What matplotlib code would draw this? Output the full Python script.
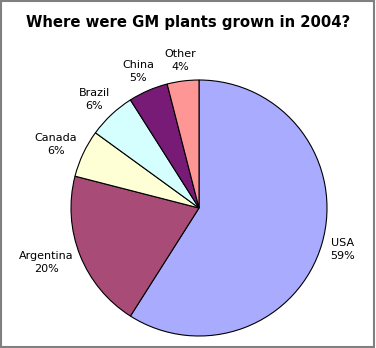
import matplotlib
matplotlib.use("Agg")
import matplotlib.pyplot as plt
import numpy as np
from matplotlib.patches import Rectangle

countries = ['USA', 'Argentina', 'Canada', 'Brazil', 'China', 'Other']
shares = [59, 20, 6, 6, 5, 4]
colors = ['#A9ABFF', '#A84B77', '#FFFFD5', '#D5FFFF', '#781B77', '#FF9696']

fig = plt.figure(figsize=(3.76, 3.48), dpi=100)
ax = fig.add_axes([0, 0, 1, 1])

cx, cy, R = 199, 140, 128
wedges, _ = ax.pie(shares, colors=colors, startangle=90, counterclock=False,
                   center=(cx, cy), radius=R, frame=True,
                   wedgeprops=dict(edgecolor='black', linewidth=0.8))
ax.set_xlim(0, 376)
ax.set_ylim(0, 348)
ax.axis('off')

total = sum(shares)
renderer = fig.canvas.get_renderer()
for w, name, v in zip(wedges, countries, shares):
    ang = np.deg2rad((w.theta1 + w.theta2) / 2)
    c, s = np.cos(ang), np.sin(ang)
    t = ax.text(0, 0, f"{name}\n{round(v / total * 100)}%", ha='center', va='center',
                multialignment='center', fontsize=8, linespacing=1.35)
    bb = t.get_window_extent(renderer)
    x = cx + 1.07 * R * c + c * bb.width / 2
    y = cy + 1.07 * R * s + s * bb.height / 2
    t.set_position((x, y))

fig.text(0.5, 1 - 22 / 348, 'Where were GM plants grown in 2004?',
         ha='center', va='center', fontsize=10.7, fontweight='bold')

fig.patches.append(Rectangle((0.002, 0.002), 0.994, 0.994, transform=fig.transFigure,
                             fill=False, edgecolor='#808080', linewidth=1.5))

fig.savefig('out.png', dpi=100)
